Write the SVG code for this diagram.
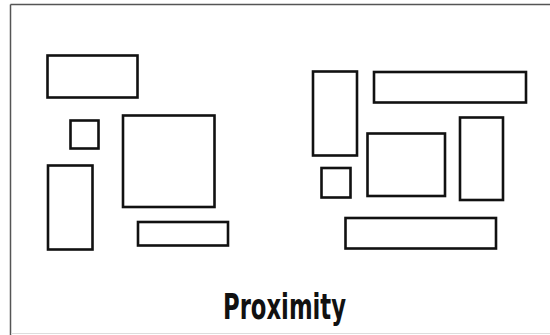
<svg xmlns="http://www.w3.org/2000/svg" width="550" height="335" viewBox="0 0 550 335">
<style>
.b{fill:none;stroke:#111;stroke-width:2.6}
.t{font-family:"Liberation Sans Narrow","DejaVu Sans Condensed","Liberation Sans",sans-serif;font-weight:bold;font-size:35px;fill:#111}
</style>
<rect x="0" y="0" width="550" height="335" fill="#fff"/>
<g id="frame">
<line x1="10.5" y1="4.5" x2="550" y2="4.5" stroke="#555" stroke-width="1.5"/>
<line x1="10.5" y1="4.5" x2="10.5" y2="335" stroke="#555" stroke-width="1.5"/>
<line x1="11" y1="333.5" x2="550" y2="333.5" stroke="#ddd" stroke-width="1"/>
</g>
<g id="left-group">
<rect id="l1" class="b" x="47.5" y="55.5" width="90" height="42"/>
<rect id="l2" class="b" x="70.5" y="120.5" width="28" height="28"/>
<rect id="l3" class="b" x="123" y="115.5" width="91.5" height="91.5"/>
<rect id="l4" class="b" x="48" y="165.5" width="44.5" height="84"/>
<rect id="l5" class="b" x="138" y="222" width="90" height="23.5"/>
</g>
<g id="right-group">
<rect id="r1" class="b" x="313" y="71.5" width="44" height="84"/>
<rect id="r2" class="b" x="374" y="72" width="152" height="30.5"/>
<rect id="r3" class="b" x="321.5" y="168" width="29" height="29.5"/>
<rect id="r4" class="b" x="367.5" y="133.5" width="77.5" height="62.5"/>
<rect id="r5" class="b" x="460" y="117.5" width="43" height="82.5"/>
<rect id="r6" class="b" x="345.5" y="218" width="150.5" height="30.5"/>
</g>
<g id="connectors"></g>
<text class="t" x="223" y="319" textLength="123" lengthAdjust="spacingAndGlyphs">Proximity</text>
</svg>
